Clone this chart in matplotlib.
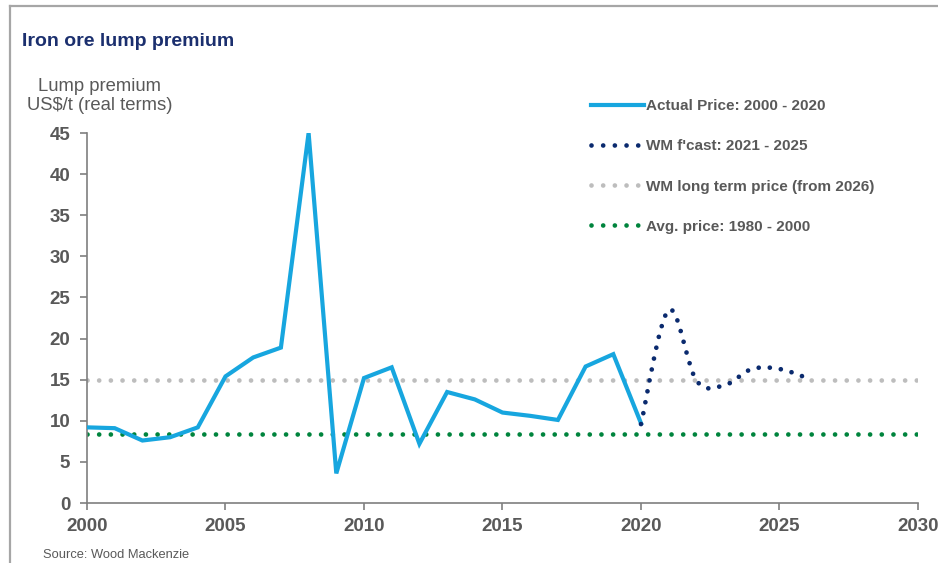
import numpy as np
import matplotlib
matplotlib.use("Agg")
import matplotlib.pyplot as plt
from matplotlib.path import Path
from matplotlib.patches import PathPatch
from matplotlib.lines import Line2D

plt.rcParams['font.family'] = ['Liberation Sans', 'DejaVu Sans']
plt.rcParams['lines.scale_dashes'] = False

# lump premium, US$/t real
actual_years = [2000, 2001, 2002, 2003, 2004, 2005, 2006, 2007, 2008, 2009, 2010,
                2011, 2012, 2013, 2014, 2015, 2016, 2017, 2018, 2019, 2020]
actual_vals = [9.2, 9.1, 7.6, 8.0, 9.2, 15.4, 17.7, 18.9, 45.0, 3.6, 15.2,
               16.5, 7.2, 13.5, 12.6, 11.0, 10.6, 10.1, 16.6, 18.1, 9.7]
fcast_years = [2020, 2021, 2022, 2023, 2024, 2025, 2026]
fcast_vals = [9.6, 23.5, 14.9, 14.3, 16.3, 16.3, 15.2]
long_term = 15.0
avg_80_00 = 8.4
line_span = [2000, 2030]

labels = ["Actual Price: 2000 - 2020", "WM f'cast: 2021 - 2025",
          "WM long term price (from 2026)", "Avg. price: 1980 - 2000"]

c_actual = "#17A6DF"
c_fcast = "#0A2A6E"
c_long = "#BDBDBD"
c_avg = "#00843D"
grey_txt = "#595959"

fig = plt.figure(figsize=(9.38, 5.63), dpi=100)
W, H = 938, 563
ax = fig.add_axes([87 / W, (H - 503) / H, (918 - 87) / W, (503 - 133) / H])

# round dots, pattern given in points (scale_dashes off)
dot_lw = 3.4
dots = (0, (0.01, 8.4))

ax.plot(line_span, [long_term] * 2, color=c_long, lw=dot_lw, ls=dots,
        dash_capstyle='round', zorder=2)
ax.plot(line_span, [avg_80_00] * 2, color=c_avg, lw=dot_lw, ls=dots,
        dash_capstyle='round', zorder=2)
ax.plot(actual_years, actual_vals, color=c_actual, lw=3.0, zorder=3,
        solid_joinstyle='miter')

# smoothed forecast curve (Catmull-Rom -> cubic Bezier)
pts = np.column_stack([fcast_years, fcast_vals]).astype(float)
ext = np.vstack([pts[0], pts, pts[-1]])
verts = [pts[0]]
codes = [Path.MOVETO]
for i in range(1, len(ext) - 2):
    p0, p1, p2, p3 = ext[i - 1], ext[i], ext[i + 1], ext[i + 2]
    verts += [p1 + (p2 - p0) / 6, p2 - (p3 - p1) / 6, p2]
    codes += [Path.CURVE4] * 3
ax.add_patch(PathPatch(Path(verts, codes), fill=False, edgecolor=c_fcast,
                       lw=dot_lw, ls=(0, (0.01, 8.0)), capstyle='round', zorder=4))

ax.set_xlim(2000, 2030)
ax.set_ylim(0, 45)
ax.set_xticks(range(2000, 2031, 5))
ax.set_yticks(range(0, 46, 5))
for s in ['top', 'right']:
    ax.spines[s].set_visible(False)
for s in ['left', 'bottom']:
    ax.spines[s].set_color('#7F7F7F')
    ax.spines[s].set_linewidth(1.2)
ax.tick_params(direction='out', length=5, width=1.2, color='#7F7F7F',
               labelsize=13.5, labelcolor=grey_txt)
ax.tick_params(axis='y', pad=7)
ax.tick_params(axis='x', pad=6)
for t in ax.get_xticklabels() + ax.get_yticklabels():
    t.set_fontweight('bold')

handles = [
    Line2D([], [], color=c_actual, lw=3.0),
    Line2D([], [], color=c_fcast, lw=dot_lw, ls=dots, dash_capstyle='round'),
    Line2D([], [], color=c_long, lw=dot_lw, ls=dots, dash_capstyle='round'),
    Line2D([], [], color=c_avg, lw=dot_lw, ls=dots, dash_capstyle='round'),
]
leg = fig.legend(handles, labels, loc='upper left',
                 bbox_to_anchor=(591 / W, 1 - 99 / H), frameon=False,
                 handlelength=3.5, handletextpad=0.12, labelspacing=1.72,
                 borderpad=0, borderaxespad=0,
                 prop={'size': 11, 'weight': 'bold'})
for t in leg.get_texts():
    t.set_color(grey_txt)

fig.text(22 / W, 1 - 42 / H, "Iron ore lump premium", color="#1B2F6E",
         fontsize=14, fontweight='bold', va='center', ha='left')
fig.text(100 / W, 1 - 96 / H, "Lump premium\nUS$/t (real terms)", color=grey_txt,
         fontsize=13.3, va='center', ha='center', multialignment='center',
         linespacing=1.1)
fig.text(43 / W, 1 - 555 / H, "Source: Wood Mackenzie", color=grey_txt,
         fontsize=9.3, va='center', ha='left')

# slide frame
fig.add_artist(Line2D([10 / W, 1], [1 - 6 / H, 1 - 6 / H], color='#A6A6A6',
                      lw=1.6, transform=fig.transFigure))
fig.add_artist(Line2D([10 / W, 10 / W], [0, 1 - 6 / H], color='#A6A6A6',
                      lw=1.6, transform=fig.transFigure))

fig.savefig("out.png", dpi=100)
